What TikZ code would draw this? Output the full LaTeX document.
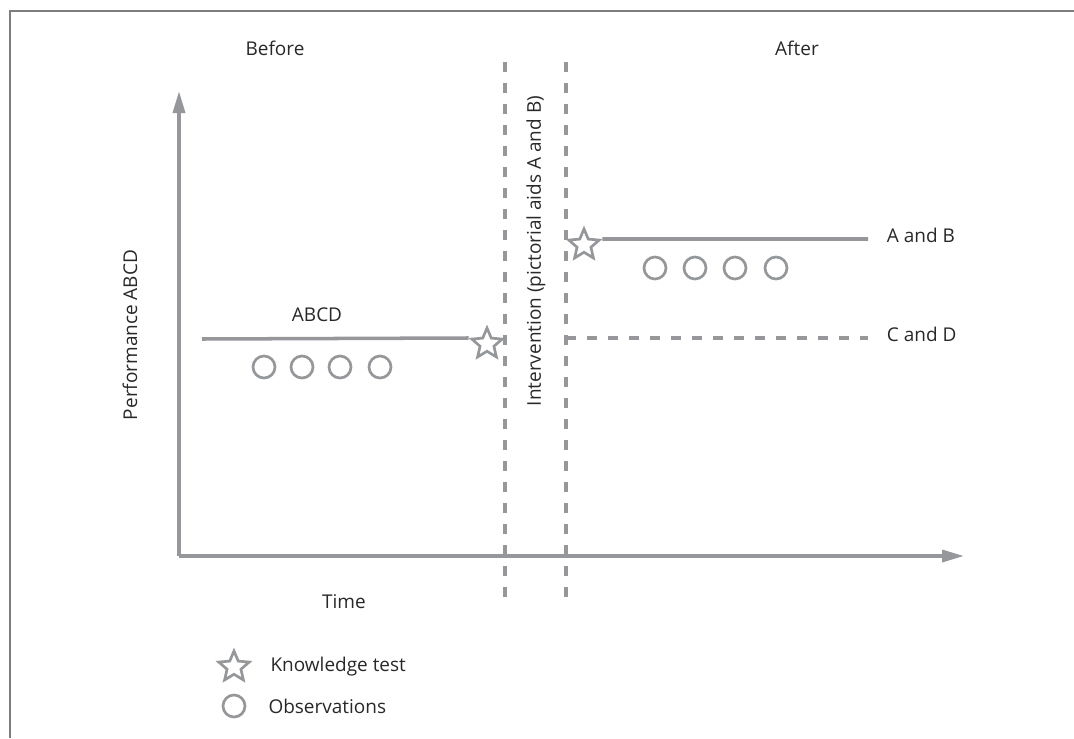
\documentclass[tikz,border=0pt]{standalone}
\usepackage{fontspec}
\setmainfont{Open Sans}
\usetikzlibrary{arrows.meta,positioning,shapes.geometric}
\definecolor{cgray}{RGB}{150,151,155}
\definecolor{ctext}{RGB}{40,40,40}
\definecolor{cframe}{RGB}{125,125,125}

\begin{document}
\begin{tikzpicture}[x=0.025cm, y=-0.025cm,
    every node/.style={text=ctext, font=\fontsize{13.5}{16}\selectfont},
    line/.style={draw=cgray, line width=2.5pt},
    axis/.style={line, -{Triangle[length=5.5mm, width=3mm]}},
    phase/.style={draw=cgray, line width=2.5pt, dash pattern=on 2.5mm off 2.75mm},
    obs/.style={circle, draw=cgray, line width=1.9pt, minimum size=0.55cm, inner sep=0},
    test/.style={star, star points=5, star point ratio=2.2, draw=cgray, line width=1.9pt, minimum size=0.8cm, inner sep=0}]
    \useasboundingbox (0,0) rectangle (1074,738);
    \draw[cframe, line width=1.4pt] (10,738) -- (10,11) -- (1074,11);

    \node (Before) at (275,48) {Before};
    \node (After) at (797,48) {After};

    % axes
    \coordinate (Origin) at (179,556);
    \coordinate (YTop) at (179,91);
    \coordinate (XEnd) at (964,556);
    \draw[axis] (Origin) -- (YTop);
    \draw[axis] (Origin) -- (XEnd);
    \node[rotate=90] (Perf) at (130,335) {Performance ABCD};
    \node (Time) at (344,602) {Time};

    % intervention
    \coordinate (P1Top) at (505,62);
    \coordinate (P1Bot) at (505,608);
    \coordinate (P2Top) at (566,62);
    \coordinate (P2Bot) at (566,608);
    \draw[phase] (P1Top) -- (P1Bot);
    \draw[phase] (P2Top) -- (P2Bot);
    \node[rotate=90] (Interv) at (536,251) {Intervention (pictorial aids A and B)};

    % before
    \coordinate (ABCDStart) at (202,339);
    \node[test] (Test1) at (487,344) {};
    \draw[line] (ABCDStart) -- (Test1.outer point 2);
    \node (ABCD) at (317,315) {ABCD};
    \foreach \x [count=\i] in {264,302,340,380}
        \node[obs] (Obs\i) at (\x,367) {};

    % after
    \node[test] (Test2) at (584,245) {};
    \coordinate (ABEnd) at (868,239);
    \draw[line] (Test2.outer point 5) -- (ABEnd);
    \node[right=0.35cm of ABEnd, yshift=0.1cm] (AB) {A and B};
    \foreach \x [count=\i] in {655,695,735,776}
        \node[obs] (Obs\i') at (\x,268) {};
    \coordinate (CDStart) at (566,338);
    \coordinate (CDEnd) at (868,338);
    \draw[phase] (CDStart) -- (CDEnd);
    \node[right=0.35cm of CDEnd, yshift=0.1cm] (CD) {C and D};

    % legend
    \node[test] (KeyTest) at (234,667) {};
    \node[right=0.5cm of KeyTest] (KeyTestText) {Knowledge test};
    \node[obs] (KeyObs) at (234,706) {};
    \node[right=0.43cm of KeyObs] (KeyObsText) {Observations};
\end{tikzpicture}
\end{document}
